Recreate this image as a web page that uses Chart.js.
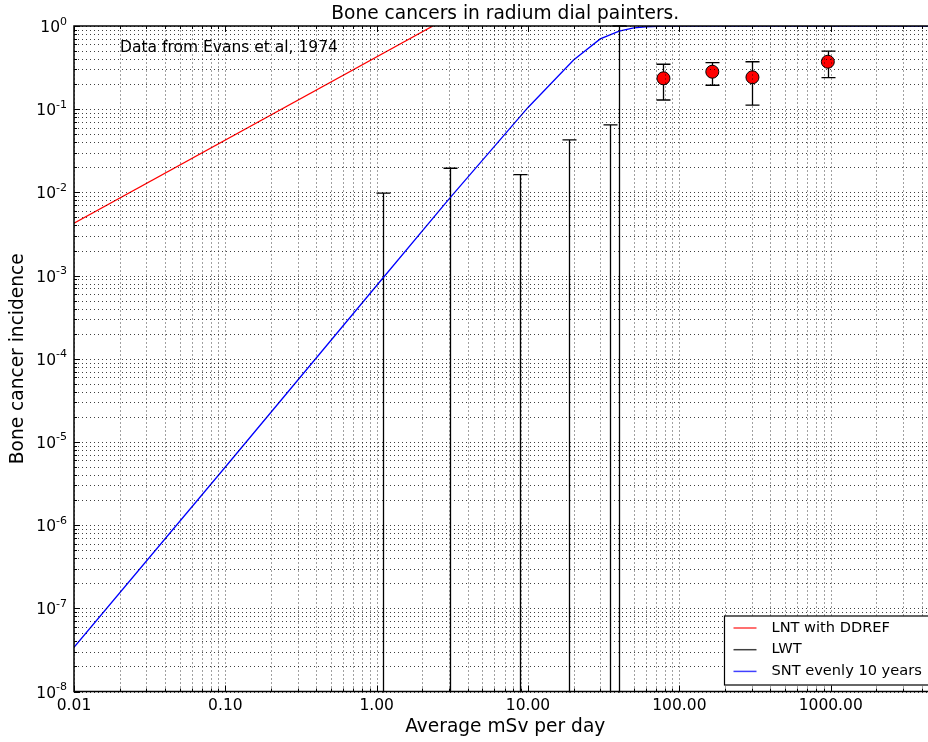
<!DOCTYPE html>
<html>
<head>
    <title>Bone cancers in radium dial painters</title>
    <script src="https://cdn.jsdelivr.net/npm/chart.js"></script>
    <style>
        body { margin: 0; background: #fff; overflow: hidden; }
    </style>
</head>
<body>
<!-- the original figure is cropped a few pixels into the right edge of the axes, so the canvas is wider than the window -->
<canvas id="chart" width="944" height="742"></canvas>

<script>
// values
const lntX = [0.01, 2.353];
const lntY = [0.00425, 1.0];

const sntX = [0.01, 0.1, 1, 3, 10, 20, 30, 40, 50, 60, 80, 100, 5000];
const sntY = [3.4e-8, 5.0e-6, 7.6e-4, 8.3e-3, 0.105, 0.39, 0.70, 0.87, 0.95, 0.98, 0.995, 1.0, 1.0];

// LWT: zero cases, upper limits only
const lwtX = [1.10, 3.05, 8.8, 18.6, 34.9, 39.8];
const lwtHigh = [0.0098, 0.0195, 0.0163, 0.0427, 0.0646, 1.0];

// observed incidence with error bars
const obsX = [78.5, 165, 304, 957];
const obsY = [0.235, 0.282, 0.242, 0.372];
const obsLow = [0.129, 0.194, 0.112, 0.239];
const obsHigh = [0.347, 0.362, 0.372, 0.50];

const xMin = 0.01, xMax = 5000;
const yMin = 1e-8, yMax = 1;

function isPow10(v) {
    const l = Math.log10(v);
    return Math.abs(l - Math.round(l)) < 1e-9;
}

function logTicks(lo, hi) {
    const out = [];
    for (let e = Math.floor(Math.log10(lo)); e <= Math.ceil(Math.log10(hi)); e++) {
        for (let m = 1; m <= 9; m++) {
            const v = parseFloat((m * Math.pow(10, e)).toPrecision(3));
            if (v >= lo * 0.999 && v <= hi * 1.001) out.push({ value: v, major: m === 1 });
        }
    }
    return out;
}

const pts = (xs, ys) => xs.map((x, i) => ({ x: x, y: ys[i] }));

const FONT = 'DejaVu Sans';
Chart.defaults.font.family = FONT;
Chart.defaults.color = '#000';

const extras = {
    id: 'extras',
    beforeDatasetsDraw(chart) {
        const ctx = chart.ctx, xs = chart.scales.x, ys = chart.scales.y, a = chart.chartArea;
        ctx.save();
        ctx.beginPath();
        ctx.rect(a.left, a.top - 1, a.right - a.left, a.bottom - a.top + 2);
        ctx.clip();
        ctx.strokeStyle = '#000';
        ctx.lineWidth = 1.3;
        const bar = (x, lo, hi) => {
            const px = Math.round(xs.getPixelForValue(x)) + 0.5;
            const pTop = ys.getPixelForValue(hi);
            const pBot = lo > yMin ? ys.getPixelForValue(lo) : a.bottom + 2;
            ctx.beginPath();
            ctx.moveTo(px, pBot); ctx.lineTo(px, pTop);
            ctx.moveTo(px - 7, pTop); ctx.lineTo(px + 7, pTop);
            if (lo > yMin) { ctx.moveTo(px - 7, pBot); ctx.lineTo(px + 7, pBot); }
            ctx.stroke();
        };
        lwtX.forEach((x, i) => bar(x, 0, lwtHigh[i]));
        obsX.forEach((x, i) => bar(x, obsLow[i], obsHigh[i]));
        ctx.restore();
    },
    afterDatasetsDraw(chart) {
        const ctx = chart.ctx, xs = chart.scales.x, ys = chart.scales.y, a = chart.chartArea;
        ctx.save();
        // dotted grid on top, like the classic matplotlib look
        ctx.strokeStyle = 'rgba(0,0,0,0.75)';
        ctx.lineWidth = 1;
        ctx.setLineDash([1, 3]);
        xs.ticks.forEach(t => {
            const px = Math.round(xs.getPixelForValue(t.value)) + 0.5;
            ctx.beginPath(); ctx.moveTo(px, a.bottom); ctx.lineTo(px, a.top); ctx.stroke();
        });
        ys.ticks.forEach(t => {
            const py = Math.round(ys.getPixelForValue(t.value)) + 0.5;
            ctx.beginPath(); ctx.moveTo(a.left, py); ctx.lineTo(a.right, py); ctx.stroke();
        });
        ctx.setLineDash([]);
        // inward tick marks
        ctx.strokeStyle = '#000';
        xs.ticks.forEach(t => {
            const px = Math.round(xs.getPixelForValue(t.value)) + 0.5;
            const len = t.major ? 6 : 3;
            ctx.beginPath();
            ctx.moveTo(px, a.bottom); ctx.lineTo(px, a.bottom - len);
            ctx.moveTo(px, a.top); ctx.lineTo(px, a.top + len);
            ctx.stroke();
        });
        ys.ticks.forEach(t => {
            const py = Math.round(ys.getPixelForValue(t.value)) + 0.5;
            const len = t.major ? 6 : 3;
            ctx.beginPath();
            ctx.moveTo(a.left, py); ctx.lineTo(a.left + len, py);
            ctx.moveTo(a.right, py); ctx.lineTo(a.right - len, py);
            ctx.stroke();
        });
        // frame
        ctx.lineWidth = 1.5;
        ctx.strokeRect(a.left, a.top, a.right - a.left, a.bottom - a.top);

        // y tick labels as 10 with a raised exponent
        ctx.fillStyle = '#000';
        ys.ticks.filter(t => t.major).forEach(t => {
            const py = ys.getPixelForValue(t.value);
            const e = String(Math.round(Math.log10(t.value)));
            ctx.font = '11px "' + FONT + '"';
            ctx.textAlign = 'right';
            ctx.textBaseline = 'alphabetic';
            const ew = ctx.measureText(e).width;
            const right = a.left - 7;
            ctx.fillText(e, right, py - 1.5);
            ctx.font = '15.5px "' + FONT + '"';
            ctx.fillText('10', right - ew, py + 6);
        });

        // legend, lower right
        const items = chart.data.datasets.filter(d => d.inLegend);
        const lx = 724.5, lr = a.right - 7, lb = a.bottom - 6.5, lt = lb - 69;
        ctx.fillStyle = '#fff';
        ctx.fillRect(lx, lt, lr - lx, lb - lt);
        ctx.lineWidth = 1.2;
        ctx.strokeRect(lx, lt, lr - lx, lb - lt);
        ctx.font = '14.6px "' + FONT + '"';
        ctx.textBaseline = 'middle';
        ctx.textAlign = 'left';
        items.forEach((d, i) => {
            const y = lt + 12 + i * 21.7;
            ctx.strokeStyle = d.borderColor;
            ctx.globalAlpha = 0.75;
            ctx.lineWidth = 1.5;
            ctx.beginPath(); ctx.moveTo(lx + 9, y); ctx.lineTo(lx + 32, y); ctx.stroke();
            ctx.globalAlpha = 1;
            ctx.fillStyle = '#000';
            ctx.fillText(d.label, lx + 47, y);
        });

        // annotation and title
        ctx.textBaseline = 'alphabetic';
        ctx.font = '15.5px "' + FONT + '"';
        ctx.fillText('Data from Evans et al, 1974', 120, 52);
        ctx.textAlign = 'center';
        ctx.font = '18.6px "' + FONT + '"';
        ctx.fillText('Bone cancers in radium dial painters.', (a.left + a.right) / 2, 19);
        ctx.restore();
    }
};

new Chart(document.getElementById('chart'), {
    type: 'scatter',
    data: {
        datasets: [
            { label: 'LNT with DDREF', data: pts(lntX, lntY), showLine: true, borderColor: '#ff0000',
              borderWidth: 1.3, pointRadius: 0, inLegend: true },
            { label: 'LWT', data: [], showLine: false, borderColor: '#000000', pointRadius: 0, inLegend: true },
            { label: 'SNT evenly 10 years', data: pts(sntX, sntY), showLine: true, borderColor: '#0000ff',
              borderWidth: 1.3, pointRadius: 0, inLegend: true },
            { label: 'Observed', data: pts(obsX, obsY), showLine: false, pointRadius: 6.5,
              backgroundColor: '#ff0000', borderColor: '#000', borderWidth: 1 }
        ]
    },
    options: {
        responsive: false,
        animation: false,
        events: [],
        layout: { padding: { top: 26, right: 0, left: 0, bottom: 0 } },
        plugins: { legend: { display: false }, title: { display: false }, tooltip: { enabled: false } },
        scales: {
            x: {
                type: 'logarithmic',
                min: xMin, max: xMax,
                afterBuildTicks: s => { s.ticks = logTicks(xMin, xMax); },
                afterFit: s => { s.height = 50.5; },
                grid: { display: false },
                border: { display: false },
                ticks: {
                    autoSkip: false, maxRotation: 0, padding: -2.5,
                    font: { size: 15.5 }, color: '#000',
                    callback: v => isPow10(v) ? Number(v).toFixed(2) : ''
                },
                title: { display: true, text: 'Average mSv per day', font: { size: 18.6 }, color: '#000',
                         padding: { top: 0, bottom: 4 } }
            },
            y: {
                type: 'logarithmic',
                min: yMin, max: yMax,
                afterBuildTicks: s => { s.ticks = logTicks(yMin, yMax); },
                afterFit: s => { s.width = 74; },
                grid: { display: false },
                border: { display: false },
                ticks: { autoSkip: false, font: { size: 15.5 }, callback: () => '' },
                title: { display: true, text: 'Bone cancer incidence', font: { size: 18.6 }, color: '#000',
                         padding: { top: 7.3, bottom: 0 } }
            }
        }
    },
    plugins: [extras]
});
</script>
</body>
</html>
